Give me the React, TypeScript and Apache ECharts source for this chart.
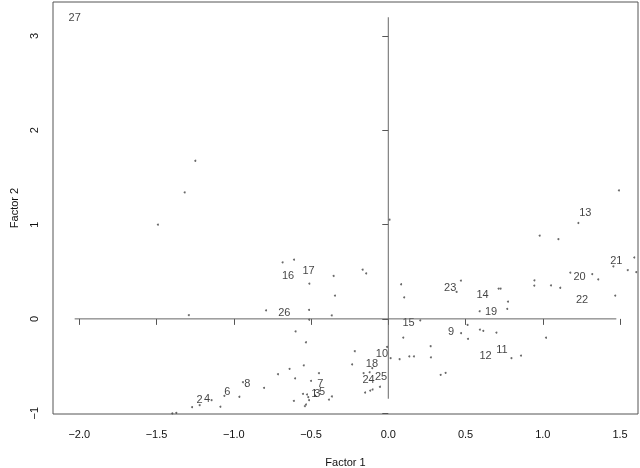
import React, { useEffect, useRef } from "react";
import * as echarts from "echarts";

// Labelled observations (text centres)
const obsNames = ["1","2","3","4","5","6","7","8","9","10","11","12","13","14","15","16","17","18","19","20","21","22","23","24","25","26","27"];
const obsX = [-0.479,-1.221,-0.460,-1.173,-0.429,-1.042,-0.440,-0.913,0.406,-0.041,0.736,0.630,1.275,0.610,0.131,-0.649,-0.516,-0.106,0.665,1.238,1.476,1.254,0.401,-0.128,-0.047,-0.673,-2.030];
const obsY = [-0.781,-0.847,-0.781,-0.841,-0.760,-0.770,-0.685,-0.685,-0.124,-0.360,-0.318,-0.385,1.132,0.265,-0.036,0.469,0.519,-0.466,0.088,0.459,0.621,0.211,0.335,-0.636,-0.601,0.077,3.199];

// Small unlabelled points
const dotX = [-1.249,-1.318,-1.491,-1.291,-0.684,-0.610,-0.511,-0.354,-0.166,-0.143,-0.345,-0.513,-0.791,-0.512,-0.366,-0.600,-0.533,-0.639,-0.547,-0.714,-0.603,-0.449,-0.500,-0.804,-0.964,-0.941,-1.061,-1.144,-1.221,-1.270,-1.087,-1.398,-1.372,-0.552,-0.526,-0.518,-0.611,-0.513,-0.533,-0.540,-0.365,-0.384,-0.217,-0.234,-0.160,-0.121,-0.104,-0.150,-0.117,-0.102,-0.054,-0.008,0.015,0.073,0.136,0.166,0.097,0.083,0.103,0.207,0.274,0.276,0.339,0.371,0.470,0.442,0.714,0.727,0.775,0.770,0.591,0.513,0.593,0.615,0.471,0.700,0.516,0.797,0.859,1.021,0.946,0.945,1.053,1.113,1.178,1.320,1.359,1.457,1.592,1.550,1.605,1.469,0.980,1.101,1.230,1.493,1.617,0.008];
const dotY = [1.677,1.341,0.999,0.040,0.600,0.628,0.373,0.455,0.522,0.482,0.247,0.095,0.091,-0.009,0.037,-0.133,-0.248,-0.530,-0.493,-0.587,-0.630,-0.576,-0.657,-0.731,-0.826,-0.672,-0.816,-0.862,-0.915,-0.936,-0.932,-1.003,-0.996,-0.795,-0.802,-0.830,-0.869,-0.862,-0.908,-0.926,-0.823,-0.856,-0.343,-0.483,-0.576,-0.566,-0.523,-0.781,-0.760,-0.749,-0.720,-0.297,-0.417,-0.428,-0.398,-0.398,-0.198,0.367,0.229,-0.015,-0.290,-0.408,-0.593,-0.572,0.406,0.286,0.321,0.321,0.184,0.106,0.081,-0.064,-0.113,-0.127,-0.152,-0.145,-0.212,-0.417,-0.389,-0.200,0.409,0.353,0.355,0.330,0.490,0.475,0.418,0.557,0.651,0.518,0.496,0.247,0.884,0.845,1.017,1.362,1.055,1.052];

const xTicks = [-2.0, -1.5, -1.0, -0.5, 0.0, 0.5, 1.0, 1.5];
const yTicks = [-1, 0, 1, 2, 3];

const FONT = "Liberation Sans, Arial, Helvetica, sans-serif";
const TEXT = "#111";
const minus = (s: string) => s.replace("-", "\u2212");

export default function App() {
  const ref = useRef<HTMLDivElement>(null);
  useEffect(() => {
    const chart = echarts.init(ref.current!, null, { renderer: "svg" });
    const minX = Math.min(...obsX), maxX = Math.max(...obsX);
    const minY = Math.min(...obsY), maxY = Math.max(...obsY);
    const padX = 0.04 * (maxX - minX), padY = 0.04 * (maxY - minY);
    const axisColor = "#555";
    chart.setOption({
      animation: false,
      backgroundColor: "#fff",
      grid: { left: 53, right: 2, top: 2, bottom: 54, show: true, borderColor: "#555", borderWidth: 1, containLabel: false, outerBoundsMode: "none" },
      xAxis: {
        type: "value",
        min: minX - padX,
        max: maxX + padX,
        axisLine: { show: false },
        splitLine: { show: false },
        axisTick: { show: true, length: 6, customValues: xTicks, lineStyle: { color: axisColor } },
        axisLabel: { customValues: xTicks, formatter: (v: number) => minus(v.toFixed(1)), fontSize: 11, color: TEXT, margin: 14, fontFamily: FONT },
        name: "Factor 1",
        nameLocation: "middle",
        nameGap: 42,
        nameTextStyle: { fontSize: 11, color: TEXT, fontFamily: FONT },
      },
      yAxis: {
        type: "value",
        min: minY - padY,
        max: maxY + padY,
        axisLine: { show: false },
        splitLine: { show: false },
        axisTick: { show: true, length: 6, customValues: yTicks, lineStyle: { color: axisColor } },
        axisLabel: { customValues: yTicks, rotate: 90, formatter: (v: number) => minus(String(v)), fontSize: 11, color: TEXT, margin: 14, fontFamily: FONT },
        name: "Factor 2",
        nameLocation: "middle",
        nameGap: 34,
        nameTextStyle: { fontSize: 11, color: TEXT, fontFamily: FONT },
      },
      series: [
        {
          type: "line",
          data: [[minX, 0], [maxX, 0]],
          symbol: "none",
          lineStyle: { color: "#666", width: 1 },
          silent: true,
        },
        {
          type: "line",
          data: [[0, minY], [0, maxY]],
          symbol: "none",
          lineStyle: { color: "#666", width: 1 },
          silent: true,
        },
        {
          type: "scatter",
          data: dotX.map((x, i) => [x, dotY[i]]),
          symbol: "circle",
          symbolSize: 2,
          itemStyle: { color: "#444" },
          silent: true,
        },
        {
          type: "scatter",
          data: obsX.map((x, i) => ({ name: obsNames[i], value: [x, obsY[i]] })),
          symbolSize: 0,
          itemStyle: { color: TEXT },
          label: {
            show: true,
            position: [0, 0],
            align: "center",
            verticalAlign: "middle",
            formatter: (p: any) => p.name,
            fontSize: 11,
            color: TEXT,
            fontFamily: FONT,
          },
          silent: true,
        },
      ],
    });
    return () => chart.dispose();
  }, []);
  return <div ref={ref} style={{ position: "fixed", left: 0, top: 0, width: 640, height: 468, filter: "grayscale(1)" }} />;
}
